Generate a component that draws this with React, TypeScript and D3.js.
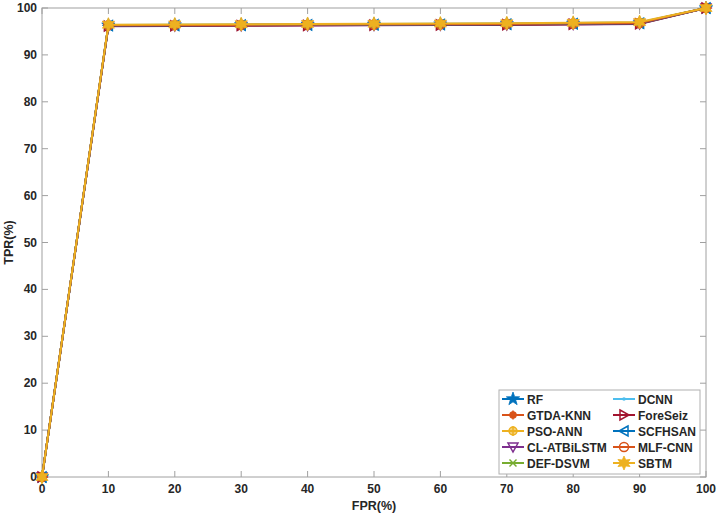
import React from "react";
import * as d3 from "d3";

const fpr = [0, 10, 20, 30, 40, 50, 60, 70, 80, 90, 100];
const seriesNames = ["RF", "GTDA-KNN", "PSO-ANN", "CL-ATBiLSTM", "DEF-DSVM", "DCNN", "ForeSeiz", "SCFHSAN", "MLF-CNN", "SBTM"];
const seriesColors = ["#0072BD", "#D95319", "#EDB120", "#7E2F8E", "#77AC30", "#4DBEEE", "#A2142F", "#0072BD", "#D95319", "#EDB120"];
const seriesMarkers = ["pentagram", "asteriskdot", "circlecross", "triangledown", "x", "dot", "triangleright", "triangleleft", "circle", "hexagram"];
const tprRF = [0, 96.3, 96.35, 96.4, 96.45, 96.5, 96.55, 96.6, 96.7, 96.8, 100];
const tprGTDA = [0, 96.3, 96.35, 96.4, 96.45, 96.5, 96.55, 96.6, 96.7, 96.8, 100];
const tprPSO = [0, 96.35, 96.4, 96.45, 96.5, 96.55, 96.6, 96.65, 96.75, 96.85, 100];
const tprCL = [0, 96.1, 96.15, 96.2, 96.25, 96.3, 96.35, 96.4, 96.5, 96.6, 100];
const tprDEF = [0, 96.2, 96.25, 96.3, 96.35, 96.4, 96.45, 96.5, 96.6, 96.7, 100];
const tprDCNN = [0, 96.4, 96.45, 96.5, 96.55, 96.6, 96.65, 96.7, 96.8, 96.9, 100];
const tprFore = [0, 96.15, 96.2, 96.25, 96.3, 96.35, 96.4, 96.45, 96.55, 96.65, 100];
const tprSCF = [0, 96.25, 96.3, 96.35, 96.4, 96.45, 96.5, 96.55, 96.65, 96.75, 100];
const tprMLF = [0, 96.3, 96.35, 96.4, 96.45, 96.5, 96.55, 96.6, 96.7, 96.8, 100];
const tprSBTM = [0, 96.45, 96.5, 96.55, 96.6, 96.65, 96.7, 96.75, 96.85, 97.0, 100];
const seriesValues = [tprRF, tprGTDA, tprPSO, tprCL, tprDEF, tprDCNN, tprFore, tprSCF, tprMLF, tprSBTM];
const xTicks = [0, 10, 20, 30, 40, 50, 60, 70, 80, 90, 100];
const yTicks = [0, 10, 20, 30, 40, 50, 60, 70, 80, 90, 100];

const W = 717, H = 516;
const L = 42, R = 706, T = 8, B = 477;

function starPath(points: number, outer: number, inner: number): string {
  const pts: [number, number][] = [];
  for (let i = 0; i < points * 2; i++) {
    const r = i % 2 === 0 ? outer : inner;
    const a = -Math.PI / 2 + (i * Math.PI) / points;
    pts.push([r * Math.cos(a), r * Math.sin(a)]);
  }
  return "M" + pts.map((p) => p[0].toFixed(2) + "," + p[1].toFixed(2)).join("L") + "Z";
}

function Marker({ kind, color, x, y }: { kind: string; color: string; x: number; y: number }) {
  const t = `translate(${x},${y})`;
  switch (kind) {
    case "pentagram":
      return <path transform={t} d={starPath(5, 7, 2.8)} fill={color} stroke={color} strokeWidth={0.8} />;
    case "hexagram":
      return <path transform={t} d={starPath(6, 7, 3.5)} fill={color} stroke={color} strokeWidth={0.8} />;
    case "asteriskdot":
      return (
        <g transform={t} stroke={color} strokeWidth={1.5}>
          <circle r={3} fill={color} />
          <line x1={-4.5} x2={4.5} y1={0} y2={0} />
          <line x1={0} x2={0} y1={-4.5} y2={4.5} />
        </g>
      );
    case "circlecross":
      return (
        <g transform={t} stroke={color} strokeWidth={1.5}>
          <circle r={4} fill={color} fillOpacity={0.6} />
          <line x1={0} x2={0} y1={-5} y2={5} />
        </g>
      );
    case "triangledown":
      return <path transform={t} d="M-5,-4L5,-4L0,5Z" fill="none" stroke={color} strokeWidth={1.5} />;
    case "triangleright":
      return <path transform={t} d="M-4,-5L5,0L-4,5Z" fill="none" stroke={color} strokeWidth={1.5} />;
    case "triangleleft":
      return <path transform={t} d="M4,-5L-5,0L4,5Z" fill="none" stroke={color} strokeWidth={1.5} />;
    case "x":
      return (
        <g transform={t} stroke={color} strokeWidth={1.5}>
          <line x1={-3.5} x2={3.5} y1={-3.5} y2={3.5} />
          <line x1={-3.5} x2={3.5} y1={3.5} y2={-3.5} />
        </g>
      );
    case "dot":
      return <circle transform={t} r={1.8} fill={color} />;
    case "circle":
      return <circle transform={t} r={4.5} fill="none" stroke={color} strokeWidth={1.5} />;
    default:
      return null;
  }
}

export default function App() {
  const x = d3.scaleLinear().domain([0, 100]).range([L, R]);
  const y = d3.scaleLinear().domain([0, 100]).range([B, T]);
  const line = d3.line<number>().x((_, i) => x(fpr[i])).y((d) => y(d));
  const axisColor = "#a0a0a0";
  const font = "Arial, 'Liberation Sans', sans-serif";
  const legX = [502, 613];
  const legY0 = 399;
  return (
    <svg width={W} height={H} style={{ position: "absolute", left: 0, top: 0, background: "#fff" }} fontFamily={font}>
      <rect x={0} y={0} width={W} height={H} fill="#fff" />
      {/* box */}
      <rect x={L} y={T} width={R - L} height={B - T} fill="#fff" stroke={axisColor} strokeWidth={1} />
      {xTicks.map((v) => (
        <g key={"xt" + v}>
          <line x1={x(v)} x2={x(v)} y1={B} y2={B - 6} stroke={axisColor} />
          <line x1={x(v)} x2={x(v)} y1={T} y2={T + 6} stroke={axisColor} />
          <text x={x(v)} y={B + 16} textAnchor="middle" fontSize={12} fontWeight="bold" fill="#262626">{v}</text>
        </g>
      ))}
      {yTicks.map((v) => (
        <g key={"yt" + v}>
          <line x1={L} x2={L + 6} y1={y(v)} y2={y(v)} stroke={axisColor} />
          <line x1={R} x2={R - 6} y1={y(v)} y2={y(v)} stroke={axisColor} />
          <text x={L - 5} y={y(v) + 4} textAnchor="end" fontSize={12} fontWeight="bold" fill="#262626">{v}</text>
        </g>
      ))}
      <text x={(L + R) / 2} y={510} textAnchor="middle" fontSize={12.5} fontWeight="bold" fill="#262626">FPR(%)</text>
      <text transform={`translate(13,${(T + B) / 2}) rotate(-90)`} textAnchor="middle" fontSize={12.5} fontWeight="bold" fill="#262626">TPR(%)</text>
      {/* series */}
      {seriesValues.map((vals, si) => (
        <g key={"s" + si}>
          <path d={line(vals) || ""} fill="none" stroke={seriesColors[si]} strokeWidth={2} />
          {vals.map((v, i) => (
            <Marker key={i} kind={seriesMarkers[si]} color={seriesColors[si]} x={x(fpr[i])} y={y(v)} />
          ))}
        </g>
      ))}
      {/* legend */}
      <rect x={499} y={390} width={201} height={84} fill="#fff" stroke="#b0b0b0" strokeWidth={1} />
      {seriesNames.map((name, si) => {
        const col = si < 5 ? 0 : 1;
        const row = si % 5;
        const lx = legX[col];
        const ly = legY0 + row * 16;
        return (
          <g key={"l" + si}>
            <line x1={lx} x2={lx + 22} y1={ly} y2={ly} stroke={seriesColors[si]} strokeWidth={2} />
            <Marker kind={seriesMarkers[si]} color={seriesColors[si]} x={lx + 11} y={ly} />
            <text x={lx + 25} y={ly + 4.5} fontSize={12} fontWeight="bold" fill="#262626">{name}</text>
          </g>
        );
      })}
    </svg>
  );
}
